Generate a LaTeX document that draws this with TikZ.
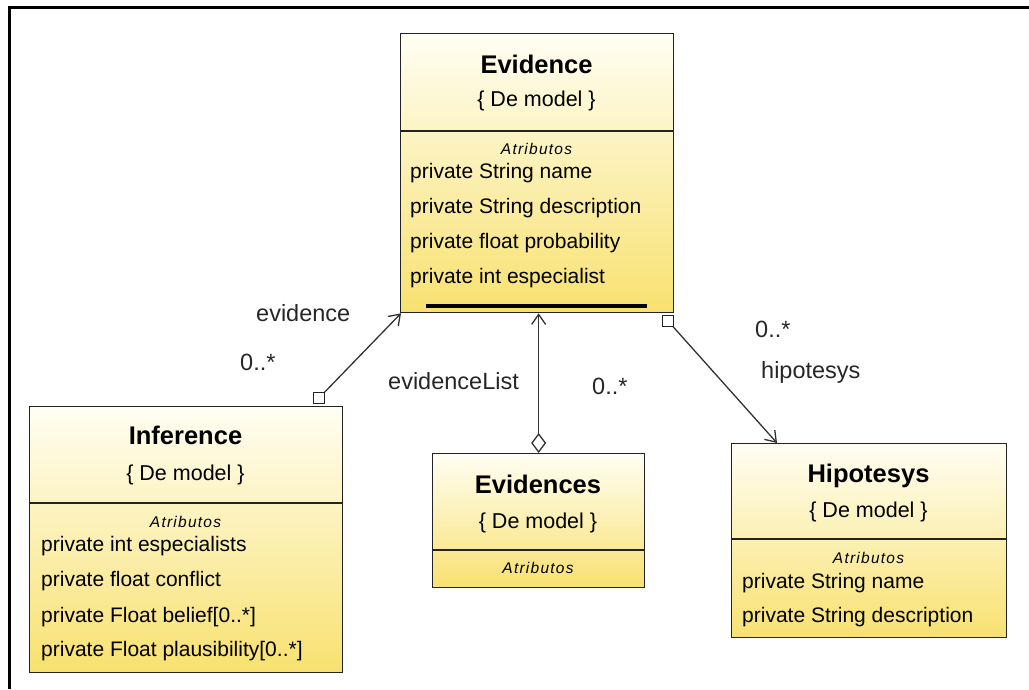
\documentclass[tikz,border=0pt]{standalone}
\usepackage{fontspec}
\setmainfont{Liberation Sans}
\newfontfamily\atrfont[LetterSpace=8]{Liberation Sans}
\usetikzlibrary{arrows.meta,calc}

\definecolor{boxtop}{RGB}{255,254,243}
\definecolor{boxbot}{RGB}{248,225,112}
\definecolor{edgec}{RGB}{35,35,35}
\definecolor{linkc}{RGB}{50,50,50}

\begin{document}
\begin{tikzpicture}[x=1pt,y=-1pt,
  classbox/.style={draw=edgec, line width=1.3pt, top color=boxtop, bottom color=boxbot,
                   anchor=north west, inner sep=0pt},
  clstitle/.style={font=\fontsize{25.5}{28}\selectfont\bfseries, anchor=base, inner sep=0pt},
  stereo/.style={font=\fontsize{21.5}{24}\selectfont, anchor=base, inner sep=0pt},
  atrhead/.style={font=\fontsize{15.5}{17}\atrfont\itshape, anchor=base, inner sep=0pt},
  attrline/.style={font=\fontsize{21}{24}\selectfont, anchor=base west, inner sep=0pt},
  rolelabel/.style={font=\fontsize{23.5}{26}\selectfont, anchor=base west, inner sep=0pt, text=black!85},
  qual/.style={draw=edgec, fill=white, line width=1.2pt, minimum size=10.5pt, inner sep=0pt},
  assoc/.style={draw=linkc, line width=1.3pt},
  navtip/.style={-{Straight Barb[length=10pt,width=14pt,line width=1.3pt]}},
  divider/.style={draw=edgec, line width=1.3pt},
]
\useasboundingbox (0,0) rectangle (1029,689);

% outer frame (top and left edges)
\draw[line width=3pt] (9,689) -- (9,7) -- (1029,7);

% ---------- Evidence ----------
\node[classbox, minimum width=273pt, minimum height=279pt] (ev) at (400,33) {};
\draw[divider] (ev.west |- 0,131) -- (ev.east |- 0,131);
\node[clstitle] (evT) at (536.5,73) {Evidence};
\node[stereo] (evS) at (536.5,106) {\{ De model \}};
\node[atrhead] (evA) at (536.5,154) {Atributos};
\node[attrline] (ev1) at (410,178) {private String name};
\node[attrline] (ev2) at (410,213) {private String description};
\node[attrline] (ev3) at (410,248) {private float probability};
\node[attrline] (ev4) at (410,283) {private int especialist};
\fill[black] (426,304) rectangle (647,308);

% ---------- Inference ----------
\node[classbox, minimum width=313pt, minimum height=266pt] (inf) at (29,406) {};
\draw[divider] (inf.west |- 0,503) -- (inf.east |- 0,503);
\node[clstitle] (infT) at (185.5,444) {Inference};
\node[stereo] (infS) at (185.5,480) {\{ De model \}};
\node[atrhead] (infA) at (185.5,527) {Atributos};
\node[attrline] (inf1) at (41,551) {private int especialists};
\node[attrline] (inf2) at (41,586) {private float conflict};
\node[attrline] (inf3) at (41,622) {private Float belief[0..*]};
\node[attrline] (inf4) at (41,656) {private Float plausibility[0..*]};

% ---------- Evidences ----------
\node[classbox, minimum width=212pt, minimum height=134pt] (es) at (432,453) {};
\draw[divider] (es.west |- 0,550) -- (es.east |- 0,550);
\node[clstitle] (esT) at (538,493) {Evidences};
\node[stereo] (esS) at (538,528) {\{ De model \}};
\node[atrhead] (esA) at (538,573) {Atributos};

% ---------- Hipotesys ----------
\node[classbox, minimum width=275pt, minimum height=194pt] (hip) at (731,443) {};
\draw[divider] (hip.west |- 0,539) -- (hip.east |- 0,539);
\node[clstitle] (hipT) at (868.5,482) {Hipotesys};
\node[stereo] (hipS) at (868.5,517) {\{ De model \}};
\node[atrhead] (hipA) at (868.5,563) {Atributos};
\node[attrline] (hip1) at (742,588) {private String name};
\node[attrline] (hip2) at (742,622) {private String description};

% ---------- associations ----------
\node[qual] (q1) at (319,398) {};
\draw[assoc, navtip] (q1) -- ($(ev.south west)+(1,0)$);
\draw[assoc, {Diamond[open,length=20pt,width=15pt,line width=1.3pt]}-{Straight Barb[length=10pt,width=14pt,line width=1.3pt]}]
  (es.north) -- (es.north |- ev.south);
\node[qual] (q2) at (668,321) {};
\draw[assoc, navtip] (q2) -- ($(hip.north west)+(46,0)$);

% role names and multiplicities
\node[rolelabel] (r1) at (256,321) {evidence};
\node[rolelabel] (m1) at (240,370) {0..*};
\node[rolelabel] (r2) at (388,389) {evidenceList};
\node[rolelabel] (m2) at (592,394) {0..*};
\node[rolelabel] (m3) at (755,337) {0..*};
\node[rolelabel] (r3) at (761,378) {hipotesys};
\end{tikzpicture}
\end{document}
